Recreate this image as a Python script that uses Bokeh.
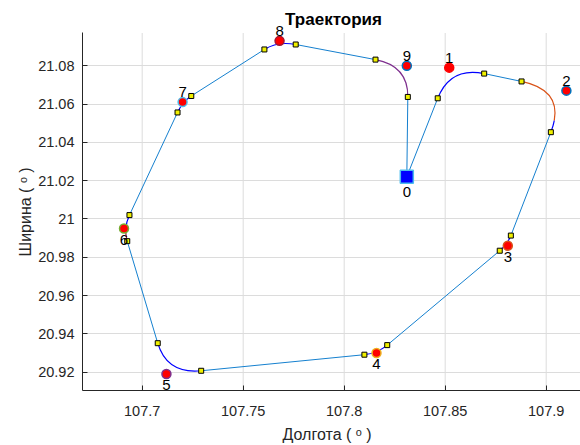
import numpy as np
from bokeh.plotting import figure
from bokeh.models import ColumnDataSource, FixedTicker, Range1d, Label, Title
from bokeh.embed import file_html
from bokeh.resources import INLINE

# ---------------- data ----------------
wp_labels = ["0", "1", "2", "3", "4", "5", "6", "7", "8", "9"]
wp_lon = [107.831, 107.852, 107.910, 107.881, 107.816, 107.712, 107.691, 107.720, 107.768, 107.831]
wp_lat = [21.022, 21.079, 21.067, 20.986, 20.930, 20.919, 20.995, 21.061, 21.093, 21.080]

# tangent points of each turn (entry / exit)
turn_in_lon = [107.8463, 107.8878, 107.8825, 107.8213, 107.7292, 107.6926, 107.7175, 107.7605, 107.8155]
turn_in_lat = [21.0630, 21.0718, 20.9913, 20.9341, 20.9207, 20.9884, 21.0556, 21.0885, 21.0832]
turn_out_lon = [107.8693, 107.9023, 107.8770, 107.8100, 107.7077, 107.6937, 107.7243, 107.7760, 107.8315]
turn_out_lat = [21.0759, 21.0453, 20.9834, 20.9291, 20.9351, 21.0020, 21.0642, 21.0911, 21.0637]

x_ticks = [107.7, 107.75, 107.8, 107.85, 107.9]
x_tick_labels = ["107.7", "107.75", "107.8", "107.85", "107.9"]
y_ticks = [20.92, 20.94, 20.96, 20.98, 21.0, 21.02, 21.04, 21.06, 21.08]
y_tick_labels = ["20.92", "20.94", "20.96", "20.98", "21", "21.02", "21.04", "21.06", "21.08"]

# axes limits (the visible box) and layout constants
X_MIN, X_MAX = 107.67045, 107.91698
Y_MIN, Y_BOX_TOP = 20.9104, 21.0971
Y_CANVAS_TOP = 21.11407          # headroom above the box for title and labels

# styles
arc_colors = ["#0000FF", "#D95319", "#0000FF", "#0000FF", "#0000FF", "#A2142F", "#0000FF", "#0000FF", "#7E2F8E"]
arc_tail_colors = [None, "#0000FF", None, None, None, "#0000FF", None, None, None]
arc_split = [1.0, 0.85, 1.0, 1.0, 1.0, 0.45, 1.0, 1.0, 1.0]
wp_edge = ["#4DBEEE", "#FF0000", "#0072BD", "#D95319", "#EDB120", "#7E2F8E", "#77AC30", "#4DBEEE", "#A2142F", "#0072BD"]
label_above = [False, True, True, False, False, False, False, True, True, True]

FONT = "Liberation Sans"
TXT = "#262626"
GRID = "#DCDCDC"

p = figure(width=580, height=445, output_backend="svg", toolbar_location=None, title=None,
           x_range=Range1d(X_MIN, X_MAX), y_range=Range1d(Y_MIN, Y_CANVAS_TOP),
           min_border_left=82, min_border_right=0, min_border_top=0, min_border_bottom=49)
p.outline_line_color = None
p.background_fill_color = "white"
p.border_fill_color = "white"

for ax, ticks, labels in ((p.xaxis[0], x_ticks, x_tick_labels), (p.yaxis[0], y_ticks, y_tick_labels)):
    ax.ticker = FixedTicker(ticks=ticks)
    ax.major_label_overrides = {t: l for t, l in zip(ticks, labels)}
    ax.minor_tick_line_color = None
    ax.major_tick_in = 5
    ax.major_tick_out = 0
    ax.major_tick_line_color = TXT
    ax.axis_line_color = TXT
    ax.major_label_text_font = FONT
    ax.major_label_text_font_size = "14.5px"
    ax.major_label_text_color = TXT
    ax.axis_label_text_font = FONT
    ax.axis_label_text_font_size = "16px"
    ax.axis_label_text_font_style = "normal"
    ax.axis_label_text_color = TXT

p.yaxis.bounds = (Y_MIN, Y_BOX_TOP)
p.xaxis.axis_label = "Долгота (  ᵒ  )"
p.xaxis.major_label_standoff = 15
p.yaxis.major_label_standoff = 8
p.xaxis.axis_label_standoff = 7

# y-axis label as a left-side title, so it stays centred on the visible box
ylab = Title(text="Ширина (  ᵒ  )", align="left", offset=134, standoff=4,
             text_font=FONT, text_font_size="16px", text_font_style="normal", text_color=TXT)
p.add_layout(ylab, "left")

# grid: horizontal lines from the grid model, vertical ones limited to the box
p.xgrid.visible = False
p.ygrid.ticker = FixedTicker(ticks=y_ticks)
p.ygrid.grid_line_color = GRID
p.ygrid.grid_line_width = 1
p.segment(x0=x_ticks, y0=[Y_MIN] * len(x_ticks), x1=x_ticks, y1=[Y_BOX_TOP] * len(x_ticks),
          line_color=GRID, line_width=1)

# ---------------- geometry ----------------
n = len(turn_in_lon)
pin = np.column_stack([turn_in_lon, turn_in_lat])
pout = np.column_stack([turn_out_lon, turn_out_lat])
start = np.array([wp_lon[0], wp_lat[0]])

seg_xs, seg_ys = [], []
prev = start
for i in range(n):
    seg_xs.append([prev[0], pin[i][0]])
    seg_ys.append([prev[1], pin[i][1]])
    prev = pout[i]
seg_xs.append([prev[0], start[0]])
seg_ys.append([prev[1], start[1]])


def intersect(a, da, b, db):
    m = np.array([[da[0], -db[0]], [da[1], -db[1]]])
    s, _ = np.linalg.solve(m, b - a)
    return a + s * da


arc_src = {"x0": [], "y0": [], "x1": [], "y1": [], "cx": [], "cy": [], "c": []}
for i in range(n):
    before = start if i == 0 else pout[i - 1]
    after = start if i == n - 1 else pin[i + 1]
    c = intersect(pin[i], pin[i] - before, pout[i], after - pout[i])
    t = arc_split[i]
    p0, p1 = pin[i], pout[i]
    if t >= 1.0:
        pieces = [(p0, c, p1, arc_colors[i])]
    else:
        q0 = p0 + (c - p0) * t
        q1 = c + (p1 - c) * t
        m = q0 + (q1 - q0) * t
        pieces = [(p0, q0, m, arc_colors[i]), (m, q1, p1, arc_tail_colors[i])]
    for a, cc, b, col in pieces:
        arc_src["x0"].append(a[0]); arc_src["y0"].append(a[1])
        arc_src["x1"].append(b[0]); arc_src["y1"].append(b[1])
        arc_src["cx"].append(cc[0]); arc_src["cy"].append(cc[1])
        arc_src["c"].append(col)

p.multi_line(seg_xs, seg_ys, line_color="#1580CF", line_width=1)
p.quadratic(x0="x0", y0="y0", x1="x1", y1="y1", cx="cx", cy="cy", line_color="c",
            line_width=1.2, source=ColumnDataSource(arc_src))

tp_x = list(turn_in_lon) + list(turn_out_lon)
tp_y = list(turn_in_lat) + list(turn_out_lat)
p.scatter(tp_x, tp_y, marker="square", size=5, fill_color="#F0F000", line_color="#000000", line_width=1)

wsrc = ColumnDataSource(dict(x=wp_lon[1:], y=wp_lat[1:], e=wp_edge[1:]))
p.scatter("x", "y", source=wsrc, marker="circle", size=9, fill_color="#FF0000", line_color="e", line_width=1.5)
p.scatter([wp_lon[0]], [wp_lat[0]], marker="square", size=13, fill_color="#0000FF", line_color="#4DBEEE", line_width=1.5)

for i, lab in enumerate(wp_labels):
    off = 10 if label_above[i] else -11
    if i == 0:
        off = -15  # below the larger start square
    p.add_layout(Label(x=wp_lon[i], y=wp_lat[i], text=lab, y_offset=off,
                       text_font=FONT, text_font_size="15px", text_color="#000000",
                       text_align="center", text_baseline="middle"))

# chart title, centred over the box
p.add_layout(Label(x=(X_MIN + X_MAX) / 2, y=Y_BOX_TOP, text="Траектория", x_offset=2, y_offset=13,
                   text_font=FONT, text_font_size="17px", text_font_style="bold", text_color="#000000",
                   text_align="center", text_baseline="middle"))

open("out.html", "w").write(file_html(p, INLINE))
